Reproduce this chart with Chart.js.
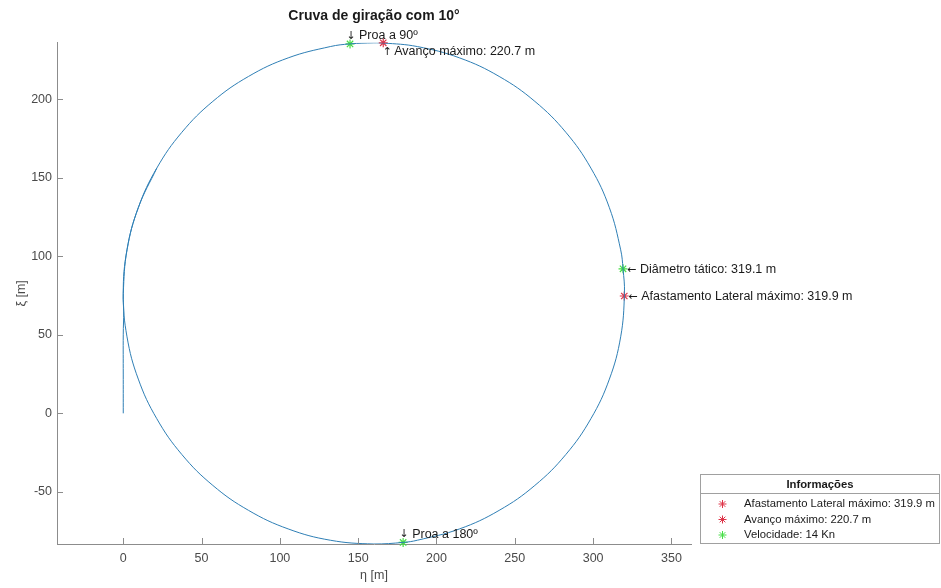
<!DOCTYPE html>
<html>
<head>
<meta charset="utf-8">
<script src="https://cdn.jsdelivr.net/npm/chart.js@4.4.0/dist/chart.umd.min.js"></script>
<style>
  html, body { margin: 0; padding: 0; background: #fff; }
</style>
</head>
<body>
<canvas id="turnChart" width="941" height="588"></canvas>
<script>
/* Curva de giração — trajetória do navio (eta, xi) em metros */

// trajetória (eta = lateral, xi = avanço)
const pathEta = [0, 0, 0, 0.3, 0, 2.4, 9.6, 21.4, 37.4, 57.2, 80, 105.3, 132.2, 144.8, 160, 166, 187.8, 214.7, 240, 262.8, 282.6, 298.6, 310.4, 317.6, 319.1, 320, 317.6, 310.4, 298.6, 282.6, 262.8, 240, 214.7, 187.8, 178.7, 160, 132.2, 105.3, 80, 57.2, 37.4, 21.4, 9.6, 2.4, 0, 2.4, 9.6, 21.4];
const pathXi  = [0, 25, 50, 65, 76.4, 104.1, 130.9, 156.1, 178.9, 198.6, 214.5, 226.3, 233.5, 235.2, 235.9, 235.8, 233.5, 226.3, 214.5, 198.6, 178.9, 156.1, 130.9, 104.1, 92, 76.4, 48.7, 21.8, -3.4, -26.2, -45.9, -61.8, -73.6, -80.8, -82.2, -83.2, -80.8, -73.6, -61.8, -45.9, -26.2, -3.4, 21.8, 48.7, 76.4, 104.1, 130.9, 156.1];

// marcadores
const latMaxEta = [319.9], latMaxXi = [74.7];
const advMaxEta = [166.0], advMaxXi = [235.9];
const markEta = [144.8, 319.1, 178.7];
const markXi  = [235.2, 92.0, -82.2];

// textos
const latMaxText = 'Afastamento Lateral máximo: 319.9 m';
const advMaxText = 'Avanço máximo: 220.7 m';
const markText = ['Proa a 90º', 'Diâmetro tático: 319.1 m', 'Proa a 180º'];
const markArrow = ['↓', '←', '↓'];
const speedText = 'Velocidade: 14 Kn';

// eixos
const xTicks = [0, 50, 100, 150, 200, 250, 300, 350];
const yTicks = [-50, 0, 50, 100, 150, 200];
const xRange = [-42.3, 362.5];
const yRange = [-83.2, 235.9];

const FONT = '"Liberation Sans", Arial, Helvetica, sans-serif';
const ARROWFONT = '"DejaVu Sans", sans-serif';
const AXIS = '#8c8c8c';
const TICKTXT = '#4a4a4a';
const RED = 'rgb(222,52,72)';
const GREEN = 'rgb(70,222,70)';

const toXY = (a, b) => a.map((v, i) => ({ x: v, y: b[i] }));

// ticks para dentro (estilo MATLAB), anotações e caixa de legenda
const matlabPlugin = {
  id: 'matlabStyle',
  afterDraw(chart) {
    const ctx = chart.ctx;
    const xs = chart.scales.x, ys = chart.scales.y;
    const area = chart.chartArea;
    ctx.save();
    ctx.strokeStyle = AXIS; ctx.lineWidth = 1;
    ctx.beginPath();
    xTicks.forEach(v => {
      const px = Math.round(xs.getPixelForValue(v)) + 0.5;
      ctx.moveTo(px, area.bottom); ctx.lineTo(px, area.bottom - 6);
    });
    yTicks.forEach(v => {
      const py = Math.round(ys.getPixelForValue(v)) + 0.5;
      ctx.moveTo(area.left, py); ctx.lineTo(area.left + 6, py);
    });
    ctx.stroke();

    // anotações: seta centrada + texto à direita
    ctx.fillStyle = '#1a1a1a';
    ctx.textBaseline = 'middle';
    const note = (eta, xi, arrow, text) => {
      const px = xs.getPixelForValue(eta), py = ys.getPixelForValue(xi);
      let ax, tx, ty;
      if (arrow === '←') { ax = px + 8.5; tx = px + 17; ty = py + 1; }
      else if (arrow === '↓') { ax = px + 1; tx = px + 9; ty = py - 8; }
      else { ax = px + 4; tx = px + 11; ty = py + 9; }
      ctx.textAlign = 'center';
      ctx.font = '11px ' + ARROWFONT;
      ctx.fillText(arrow, ax, ty);
      ctx.textAlign = 'left';
      ctx.font = '12.5px ' + FONT;
      ctx.fillText(text, tx, ty);
    };
    markEta.forEach((e, i) => note(e, markXi[i], markArrow[i], markText[i]));
    note(latMaxEta[0], latMaxXi[0], '←', latMaxText);
    note(advMaxEta[0], advMaxXi[0], '↑', advMaxText);

    // legenda
    const bx = 700.5, by = 474.5, bw = 239, bh = 69;
    ctx.strokeStyle = '#a0a0a0';
    ctx.strokeRect(bx, by, bw, bh);
    ctx.beginPath(); ctx.moveTo(bx, by + 19); ctx.lineTo(bx + bw, by + 19); ctx.stroke();
    ctx.fillStyle = '#1a1a1a';
    ctx.font = 'bold 11.3px ' + FONT;
    ctx.textAlign = 'center';
    ctx.fillText('Informações', bx + bw / 2, by + 10.5);
    ctx.font = '11.3px ' + FONT;
    ctx.textAlign = 'left';
    const items = chart.data.datasets.filter(d => d.inLegend);
    items.forEach((d, i) => {
      const cy = by + 29.5 + i * 15.5;
      drawStar(ctx, 722.5, cy, 4, d.borderColor);
      ctx.fillStyle = '#1a1a1a';
      ctx.fillText(d.label, 744, cy);
    });
    ctx.restore();
  }
};

function drawStar(ctx, x, y, r, color) {
  const d = r * Math.SQRT1_2;
  ctx.save();
  ctx.strokeStyle = color; ctx.lineWidth = 1;
  ctx.beginPath();
  ctx.moveTo(x - r, y); ctx.lineTo(x + r, y);
  ctx.moveTo(x, y - r); ctx.lineTo(x, y + r);
  ctx.moveTo(x - d, y - d); ctx.lineTo(x + d, y + d);
  ctx.moveTo(x - d, y + d); ctx.lineTo(x + d, y - d);
  ctx.stroke();
  ctx.restore();
}

const starSet = (label, data, color, inLegend) => ({
  label, data, inLegend,
  showLine: false, clip: false,
  pointStyle: 'star', pointRadius: 4.5, pointBorderWidth: 1.2,
  borderColor: color, backgroundColor: color, pointBorderColor: color
});

new Chart(document.getElementById('turnChart').getContext('2d'), {
  type: 'line',
  data: {
    datasets: [
      { label: 'trajetória', data: toXY(pathEta, pathXi), borderColor: '#2f7fb5', borderWidth: 1,
        pointRadius: 0, fill: false, tension: 0.4, inLegend: false },
      starSet(latMaxText, toXY(latMaxEta, latMaxXi), RED, true),
      starSet(advMaxText, toXY(advMaxEta, advMaxXi), RED, true),
      starSet(speedText, toXY(markEta, markXi), GREEN, true)
    ]
  },
  options: {
    responsive: false,
    animation: false,
    layout: { padding: { left: 0, right: 250, top: 0, bottom: 0 } },
    plugins: {
      legend: { display: false },
      tooltip: { enabled: false },
      title: {
        display: true, fullSize: false, text: 'Cruva de giração com 10°',
        color: '#1a1a1a', font: { family: FONT, size: 14, weight: 'bold' },
        padding: { top: 8, bottom: 18 }
      }
    },
    scales: {
      x: {
        type: 'linear', min: xRange[0], max: xRange[1],
        afterBuildTicks: s => { s.ticks = xTicks.map(v => ({ value: v })); },
        afterFit: s => { s.height = 44; },
        grid: { display: true, drawOnChartArea: false, drawTicks: false },
        border: { display: true, color: AXIS, width: 1 },
        ticks: { color: TICKTXT, font: { family: FONT, size: 12.5 }, padding: 7, maxRotation: 0 },
        title: { display: true, text: 'η [m]', color: TICKTXT, font: { family: FONT, size: 12.5 }, padding: { top: 0, bottom: 4.5 } }
      },
      y: {
        type: 'linear', min: yRange[0], max: yRange[1],
        afterBuildTicks: s => { s.ticks = yTicks.map(v => ({ value: v })); },
        afterFit: s => { s.width = 57; },
        grid: { display: true, drawOnChartArea: false, drawTicks: false },
        border: { display: true, color: AXIS, width: 1 },
        ticks: { color: TICKTXT, font: { family: FONT, size: 12.5 }, padding: 5 },
        title: { display: true, text: 'ξ [m]', color: TICKTXT, font: { family: FONT, size: 12.5 }, padding: { top: 14, bottom: 0 } }
      }
    }
  },
  plugins: [matlabPlugin]
});
</script>
</body>
</html>
